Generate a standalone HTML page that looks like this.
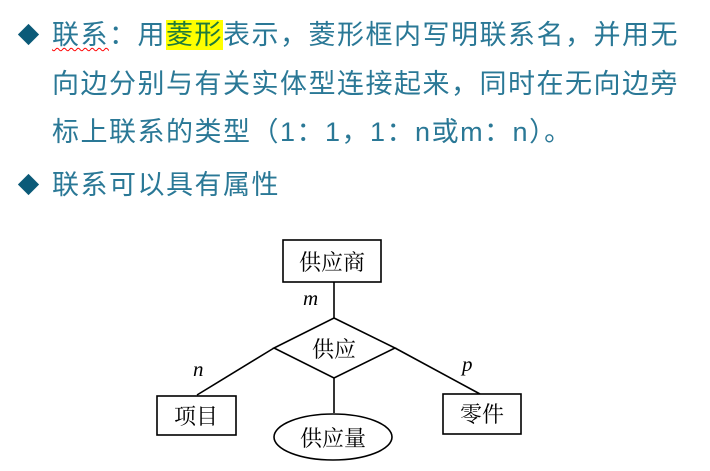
<!DOCTYPE html>
<html><head><meta charset="utf-8"><style>
body{margin:0;width:710px;height:471px;background:#fff;overflow:hidden;position:relative;font-family:"Liberation Sans","Noto Sans CJK SC",sans-serif;}
.l{position:absolute;left:52px;font-size:27px;letter-spacing:1.5px;color:#2a7896;white-space:nowrap;line-height:30px;}
.d{position:absolute;width:15px;height:15px;background:#0b5a78;transform:rotate(45deg);}
.hl{background:#ffff00;color:#1f7a3a;}
.sq{text-decoration:underline wavy red;text-decoration-thickness:1px;text-underline-offset:3px;}
</style></head><body>
<div class="d" style="left:21px;top:27px"></div>
<div class="l" style="top:20px"><span class="sq">联系</span>：用<span class="hl">菱形</span>表示，菱形框内写明联系名，并用无</div>
<div class="l" style="top:69px">向边分别与有关实体型连接起来，同时在无向边旁</div>
<div class="l" style="top:117px">标上联系的类型（1：1，1：n或m：n）。</div>
<div class="d" style="left:21px;top:177px"></div>
<div class="l" style="top:170px">联系可以具有属性</div>
<svg style="position:absolute;left:0;top:0" width="710" height="471">
<g stroke="#000" stroke-width="1.6" fill="none">
<rect x="283" y="240" width="98" height="42" fill="#fff"/>
<line x1="334" y1="282" x2="334" y2="318"/>
<polygon points="334,318 395,348 334,378 274,348"/>
<line x1="274" y1="348" x2="197" y2="395"/>
<line x1="395" y1="348" x2="480" y2="394"/>
<line x1="334" y1="378" x2="334" y2="413"/>
<rect x="157" y="396" width="79" height="39" fill="#fff"/>
<rect x="443" y="394" width="78" height="40" fill="#fff"/>
<ellipse cx="333" cy="437" rx="59" ry="23" fill="#fff"/>
</g>
<g font-family="'Noto Serif CJK SC',serif" font-size="22" fill="#000" text-anchor="middle">
<text x="332" y="270">供应商</text>
<text x="334" y="357">供应</text>
<text x="196" y="424">项目</text>
<text x="482" y="422">零件</text>
<text x="333" y="446">供应量</text>
</g>
<g font-family="'Liberation Serif',serif" font-style="italic" font-size="21" fill="#000">
<text x="303" y="305">m</text>
<text x="193" y="376">n</text>
<text x="462" y="371">p</text>
</g>
</svg>
</body></html>
